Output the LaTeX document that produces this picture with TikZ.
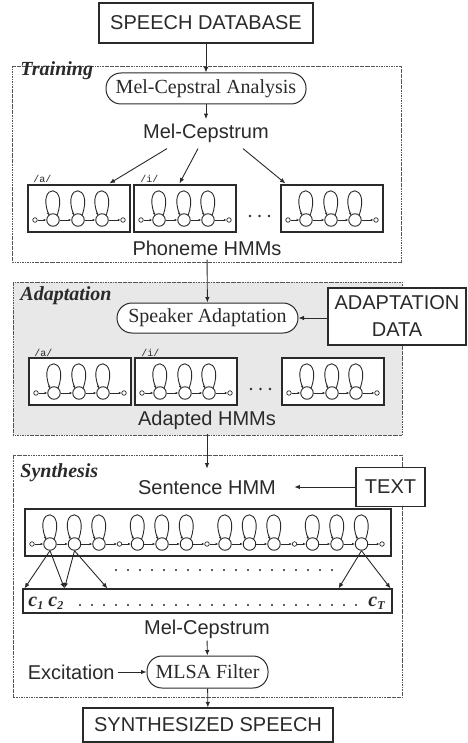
\documentclass[tikz,border=0pt]{standalone}
\usepackage{fontspec}
\setmainfont{Liberation Serif}
\setsansfont{Liberation Sans}
\setmonofont{Liberation Mono}
\usetikzlibrary{arrows.meta,calc}
\definecolor{ink}{HTML}{2A2A2A}
\definecolor{adfill}{HTML}{E8E8E8}
\definecolor{framec}{HTML}{555555}

\newcommand\hstate[3]{%
  \node[hstate] (#1) at (#2,#3) {};
  \draw[looparr] (#2+4,#3-4.6) .. controls (#2+16,#3-37) and (#2-16,#3-37) .. (#2-4,#3-4.6);
}
\newcommand\phmm[3]{% name, left, top
  \node[hbox] (#1) at (#2+51,#3+23.5) {};
  \node[hend] (#1i) at (#2+7,#3+35) {};
  \hstate{#1a}{#2+25}{#3+35}
  \hstate{#1b}{#2+50}{#3+35}
  \hstate{#1c}{#2+74}{#3+35}
  \node[hend] (#1o) at (#2+95,#3+35) {};
  \draw[tarr] (#1i) -- (#1a);
  \draw[tarr] (#1a) -- (#1b);
  \draw[tarr] (#1b) -- (#1c);
  \draw[tarr] (#1c) -- (#1o);
}
\newcommand\csub[1]{\raisebox{-3.5pt}{\fontsize{12}{12}\selectfont #1}}

\begin{document}
\begin{tikzpicture}[x=1pt,y=-1pt, ink, line width=0.9pt,
  arr/.style={draw=ink, line width=0.9pt, -{Latex[length=5.5pt,width=4.5pt]}},
  tarr/.style={draw=ink, line width=0.7pt, -{Latex[length=2.6pt,width=2.4pt]}},
  looparr/.style={draw=ink, line width=0.9pt, -{Latex[length=2.6pt,width=2.4pt]}},
  frame/.style={draw=framec, line width=0.8pt, dash pattern=on 2.5pt off 0.8pt on 0.8pt off 0.8pt},
  sbox/.style={draw=ink, line width=1.2pt, fill=white, inner sep=0pt, align=center, font=\sffamily\fontsize{20}{27}\selectfont},
  pill/.style={draw=ink, line width=1pt, rounded corners=15pt, fill=white, inner sep=0pt, font=\fontsize{20}{22}\selectfont},
  stxt/.style={inner sep=0pt, font=\sffamily\fontsize{20}{22}\selectfont},
  sect/.style={inner sep=0pt, anchor=base west, font=\bfseries\itshape\fontsize{20}{22}\selectfont},
  hbox/.style={draw=ink, line width=1.1pt, fill=white, minimum width=102pt, minimum height=47pt, inner sep=0pt},
  hstate/.style={circle, draw=ink, line width=0.9pt, minimum size=12.5pt, inner sep=0pt, fill=white},
  hend/.style={circle, draw=ink, line width=0.7pt, minimum size=4.5pt, inner sep=0pt, fill=white},
  ph/.style={inner sep=0pt, anchor=base west, font=\ttfamily\fontsize{10}{10}\selectfont},
  cl/.style={inner sep=0pt, anchor=base west, font=\bfseries\itshape\fontsize{20}{22}\selectfont},
  dotc/.style={fill=ink, circle, inner sep=0pt, minimum size=2.6pt},
]
\fill[white] (0,0) rectangle (467,743);
\useasboundingbox (0,0) rectangle (467,743);

% frames
\draw[frame] (12,66) rectangle (401,262);
\draw[frame, fill=adfill] (13,282) rectangle (402,435);
\draw[frame] (13,455) rectangle (402,697);

\node[sect] (ttr) at (20,76) {Training};
\node[sect] (tad) at (20,300) {Adaptation};
\node[sect] (tsy) at (20,477) {Synthesis};

% training
\node[sbox, minimum width=214pt, minimum height=40pt] (db) at (206,23) {SPEECH DATABASE};
\node[pill, minimum width=200pt, minimum height=31pt] (mca) at (206,88.5) {Mel-Cepstral Analysis};
\node[stxt, anchor=base] (mc1) at (206,139) {Mel-Cepstrum};
\phmm{pa}{28}{185}
\phmm{pb}{134}{185}
\phmm{pc}{281}{185}
\node[ph] (la1) at (33,183) {/a/};
\node[ph] (li1) at (140,183) {/i/};
\node[dotc] (pd1) at (250,216) {};
\node[dotc] (pd2) at (259.5,216) {};
\node[dotc] (pd3) at (269,216) {};
\node[stxt, anchor=base] (phm) at (207,255) {Phoneme HMMs};

\draw[arr] (db) -- (mca);
\draw[arr, shorten >=5pt] (mca) -- (mc1);
\draw[arr] ($(mc1.south)+(-39,5)$) -- ($(pa.north west)+(82,-1)$);
\draw[arr] ($(mc1.south)+(-8,5)$) -- ($(pb.north west)+(46,-1)$);
\draw[arr] ($(mc1.south)+(37,5)$) -- ($(pc.north west)+(5,-1)$);

% adaptation
\node[pill, minimum width=181pt, minimum height=30pt] (spk) at (207.5,318) {Speaker Adaptation};
\node[sbox, minimum width=138pt, minimum height=57pt] (adata) at (397,316.5) {ADAPTATION\\DATA};
\phmm{qa}{29}{358}
\phmm{qb}{135}{358}
\phmm{qc}{282}{358}
\node[ph] (la2) at (34,356) {/a/};
\node[ph] (li2) at (141,356) {/i/};
\node[dotc] (qd1) at (251,389) {};
\node[dotc] (qd2) at (260.5,389) {};
\node[dotc] (qd3) at (270,389) {};
\node[stxt, anchor=base] (adh) at (207,425) {Adapted HMMs};

\draw[arr, shorten <=4pt] (phm) -- (spk);
\draw[arr] (adata.west |- spk.east) -- (spk.east);

% synthesis
\node[stxt, anchor=base] (sen) at (207,494) {Sentence HMM};
\node[sbox, minimum width=69pt, minimum height=39pt] (txt) at (390.5,487) {TEXT};
\draw[arr, shorten <=4pt, shorten >=11pt] (adh) -- (sen);
\draw[arr] (txt.west) -- ($(sen.east |- txt.west)+(18,0)$);

\node[hbox, minimum width=366pt] (sbig) at (208,532.5) {};
\foreach \k in {0,1,2,3}{
  \pgfmathsetmacro\gx{32+87.5*\k}
  \node[hend] (se\k) at (\gx,544) {};
  \hstate{sa\k}{\gx+18}{544}
  \hstate{sb\k}{\gx+42.5}{544}
  \hstate{sc\k}{\gx+67}{544}
  \draw[tarr] (se\k) -- (sa\k);
  \draw[tarr] (sa\k) -- (sb\k);
  \draw[tarr] (sb\k) -- (sc\k);
}
\node[hend] (se4) at (382,544) {};
\foreach \k/\n in {0/1,1/2,2/3,3/4}{\draw[tarr] (sc\k) -- (se\n);}

\foreach \i in {0,...,18}{\fill[ink] (116+12*\i,570) circle (1.2);}

\node[draw=ink, line width=1.1pt, fill=white, minimum width=369pt, minimum height=24pt, inner sep=0pt] (cbox) at (207.5,601) {};
\node[cl] (c1) at (28,606) {c\csub{1}};
\node[cl] (c2) at (48,606) {c\csub{2}};
\node[cl] (cT) at (368,606) {c\csub{\itshape T}};
\foreach \i in {0,...,23}{\fill[ink] (80+12*\i,605) circle (1.2);}

\draw[arr] (sa0.south) -- ($(cbox.north west)+(2,0)$);
\draw[arr] (sa0.south) -- ($(cbox.north west)+(42,0)$);
\draw[arr] (sb0.south) -- ($(cbox.north west)+(42,0)$);
\draw[arr] (sb0.south) -- ($(cbox.north west)+(85,0)$);
\draw[arr] (sc3.south) -- ($(cbox.north east)+(-54,0)$);
\draw[arr] (sc3.south) -- ($(cbox.north east)+(-2,0)$);

\node[stxt, anchor=base] (mc2) at (207,634) {Mel-Cepstrum};
\node[pill, minimum width=121pt, minimum height=32pt] (mlsa) at (207.5,672) {MLSA Filter};
\node[stxt, anchor=base east] (exc) at (115,679) {Excitation};
\node[sbox, minimum width=250pt, minimum height=34pt] (synth) at (208,725) {SYNTHESIZED SPEECH};

\draw[arr, shorten <=2pt] (mc2) -- (mlsa);
\draw[arr, shorten <=3pt] (exc.east |- mlsa.west) -- (mlsa.west);
\draw[arr] (mlsa) -- (synth);
\end{tikzpicture}
\end{document}
